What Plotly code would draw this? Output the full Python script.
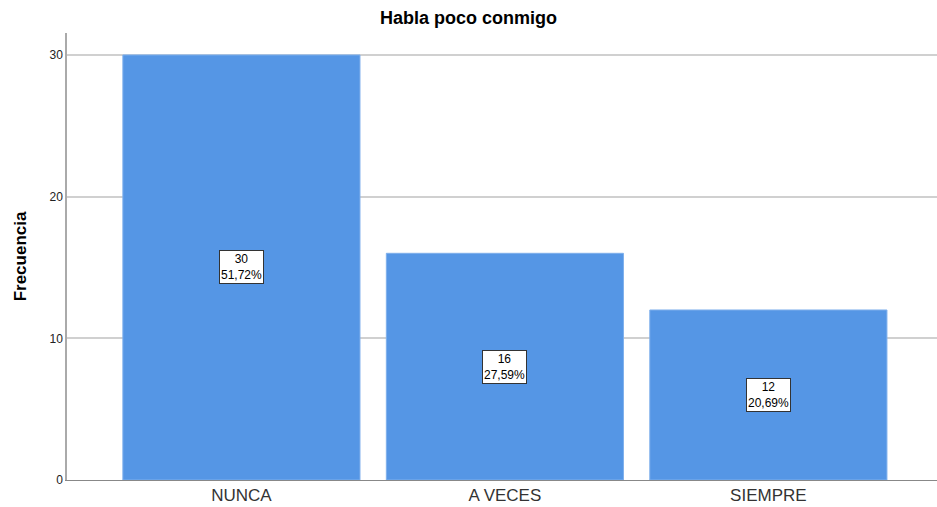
import plotly.graph_objects as go

categories = ["NUNCA", "A VECES", "SIEMPRE"]
counts = [30, 16, 12]
percent_labels = ["51,72%", "27,59%", "20,69%"]
y_ticks = [0, 10, 20, 30]

fig = go.Figure()
fig.add_trace(go.Bar(
    x=categories, y=counts, width=0.9,
    marker=dict(color="#5596E5", line=dict(color="#7FB0EC", width=1)),
    hoverinfo="skip",
))

for c, v, p in zip(categories, counts, percent_labels):
    fig.add_annotation(
        x=c, y=v / 2, text=f"{v}<br>{p}", showarrow=False,
        font=dict(family="Liberation Sans, Arial", size=12, color="#000"),
        bgcolor="white", bordercolor="#333", borderwidth=1, borderpad=1,
    )

fig.update_layout(
    width=937, height=507,
    margin=dict(l=67, r=0, t=33, b=27, autoexpand=False),
    paper_bgcolor="white", plot_bgcolor="white",
    showlegend=False,
    font=dict(family="Liberation Sans, Arial", color="#222"),
    title=dict(text="<b>Habla poco conmigo</b>", x=0.5, xanchor="center",
               y=1 - 18 / 507, yanchor="middle",
               font=dict(size=18, color="#000")),
    xaxis=dict(
        range=[-0.662, 2.64], showgrid=False, showline=True,
        linecolor="#888", linewidth=1, ticks="", automargin=False,
        tickfont=dict(size=17, color="#333"),
    ),
    yaxis=dict(
        range=[0, 31.55], tickvals=y_ticks, showgrid=True,
        gridcolor="#D0D0D0", gridwidth=1.5, showline=True,
        linecolor="#AAA", linewidth=1.5, ticks="", zeroline=False,
        automargin=False,
        tickfont=dict(size=12, color="#222"),
        title=dict(text="<b>Frecuencia</b>", font=dict(size=17, color="#000"), standoff=19),
    ),
)

fig.write_html(
    "out.html",
    config={"displayModeBar": False},
    post_script="document.body.style.margin='0';document.body.style.overflow='hidden';",
)
